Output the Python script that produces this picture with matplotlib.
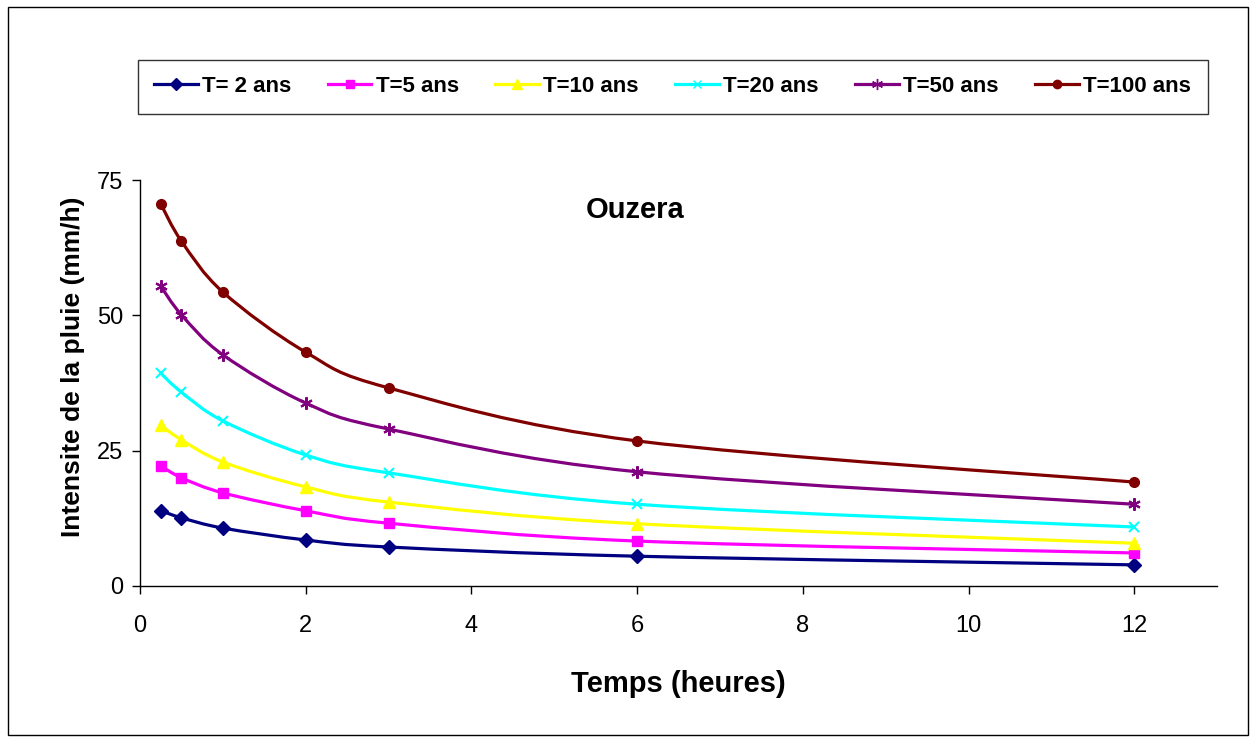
import matplotlib
matplotlib.use("Agg")
import matplotlib.pyplot as plt
from matplotlib.path import Path
from matplotlib.patches import PathPatch, Rectangle
from matplotlib.lines import Line2D
import numpy as np

plt.rcParams['font.family'] = ['Liberation Sans', 'DejaVu Sans']

# durations (hours) and rainfall intensity (mm/h) per return period
temps = [0.25, 0.5, 1, 2, 3, 6, 12]
t2 = [13.9, 12.6, 10.7, 8.5, 7.2, 5.5, 3.9]
t5 = [22.2, 20.0, 17.2, 13.9, 11.6, 8.3, 6.1]
t10 = [29.7, 27.0, 22.9, 18.3, 15.5, 11.5, 7.9]
t20 = [39.3, 35.8, 30.5, 24.2, 20.9, 15.1, 10.9]
t50 = [55.4, 50.1, 42.7, 33.8, 29.0, 21.1, 15.1]
t100 = [70.6, 63.7, 54.3, 43.2, 36.6, 26.8, 19.2]

series = [
    ("T= 2 ans", t2, "#000080", "D", 7),
    ("T=5 ans", t5, "#FF00FF", "s", 7),
    ("T=10 ans", t10, "#FFFF00", "^", 8),
    ("T=20 ans", t20, "#00FFFF", "x", 7),
    ("T=50 ans", t50, "#800080", (6, 2, 0), 9),
    ("T=100 ans", t100, "#800000", "o", 7),
]


def smooth_path(x, y, tension=1/6):
    # catmull-rom style cubic bezier through the points
    x = np.asarray(x, float)
    y = np.asarray(y, float)
    verts = [(x[0], y[0])]
    codes = [Path.MOVETO]
    n = len(x)
    for i in range(n - 1):
        i0 = max(i - 1, 0)
        i3 = min(i + 2, n - 1)
        c1 = (x[i] + (x[i + 1] - x[i0]) * tension, y[i] + (y[i + 1] - y[i0]) * tension)
        c2 = (x[i + 1] - (x[i3] - x[i]) * tension, y[i + 1] - (y[i3] - y[i]) * tension)
        verts += [c1, c2, (x[i + 1], y[i + 1])]
        codes += [Path.CURVE4] * 3
    return Path(verts, codes)


fig = plt.figure(figsize=(12.56, 7.44), dpi=100)
ax = fig.add_axes([0.1115, 0.2124, 0.8575, 0.5456])

handles = []
for label, vals, col, mk, ms in series:
    ax.add_patch(PathPatch(smooth_path(temps, vals), fill=False, edgecolor=col, lw=2.3, zorder=2))
    ax.plot(temps, vals, ls='none', marker=mk, color=col, markersize=ms,
            markeredgewidth=1.5 if mk in ("x",) or isinstance(mk, tuple) else 1, zorder=3)
    handles.append(Line2D([], [], color=col, lw=2.3, marker=mk, markersize=ms - 1, label=label))

ax.set_xlim(0, 13)
ax.set_ylim(0, 75)
ax.set_xticks([0, 2, 4, 6, 8, 10, 12])
ax.set_yticks([0, 25, 50, 75])
ax.tick_params(direction='out', length=6, width=1, labelsize=17)
ax.tick_params(axis='x', pad=15)
ax.tick_params(axis='y', pad=6)
for s in ['top', 'right']:
    ax.spines[s].set_visible(False)
for s in ['left', 'bottom']:
    ax.spines[s].set_linewidth(1)

ax.set_xlabel("Temps (heures)", fontsize=21, fontweight='bold', labelpad=24)
ax.set_ylabel("Intensite de la pluie (mm/h)", fontsize=19, fontweight='bold')
ax.yaxis.set_label_coords(-0.0515, 0.539)
ax.text(0.46, 0.925, "Ouzera", transform=ax.transAxes, fontsize=21,
        fontweight='bold', ha='center', va='center')

leg = fig.legend(handles=handles, loc='center', bbox_to_anchor=(0.5355, 0.8835), ncol=6,
                 frameon=True, fancybox=False, edgecolor='black',
                 prop={'weight': 'bold', 'size': 16}, handlelength=1.95,
                 columnspacing=1.65, handletextpad=0.2, borderpad=0.75, borderaxespad=0)
leg.get_frame().set_linewidth(1)

fig.patches.append(Rectangle((0.0064, 0.012), 0.987, 0.978, transform=fig.transFigure,
                             fill=False, edgecolor='black', lw=1))

fig.savefig("out.png", dpi=100)
